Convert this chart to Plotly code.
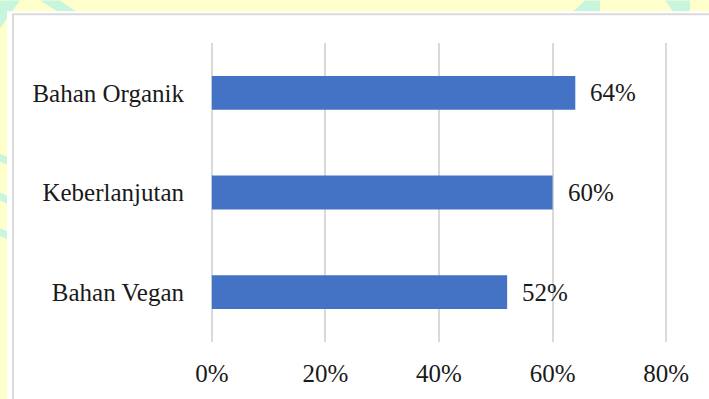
import plotly.graph_objects as go

categories = ["Bahan Vegan", "Keberlanjutan", "Bahan Organik"]
values = [52, 60, 64]
tick_vals = [0, 20, 40, 60, 80]
tick_text = ["0%", "20%", "40%", "60%", "80%"]

W, H = 709, 399
ML, MR, MT, MB = 209, 40, 43, 54
PW, PH = W - ML - MR, H - MT - MB

def px(x):
    return (x - ML) / PW

def py(y):
    return 1 - (y - MT) / PH

FONT = "Liberation Serif, Times New Roman, serif"

fig = go.Figure()
fig.add_trace(go.Bar(
    y=categories, x=values, orientation="h",
    marker=dict(color="#4472C4", line=dict(width=0)),
    width=0.34,
    hoverinfo="skip",
))

for c, v in zip(categories, values):
    fig.add_annotation(x=v, y=c, xref="x", yref="y", text=f"{v}%",
                       showarrow=False, xanchor="left", xshift=13,
                       font=dict(family=FONT, size=25, color="#1A1A1A"))

shapes = []
cyan = "#C8F5DE"
def poly(pts):
    d = "M " + " L ".join(f"{px(a)},{py(b)}" for a, b in pts) + " Z"
    return dict(type="path", path=d, xref="paper", yref="paper",
                fillcolor=cyan, line=dict(width=0), layer="below")
shapes.append(poly([(0, 0), (20, 0), (0, 28)]))
shapes.append(poly([(40, 0), (60, 0), (80, 14), (62, 14)]))
shapes.append(poly([(570, 14), (585, 0), (600, 0), (600, 14)]))
shapes.append(poly([(665, 0), (690, 0), (690, 14), (675, 14)]))
shapes.append(poly([(0, 155), (7, 158), (7, 166), (0, 163)]))
shapes.append(poly([(0, 194), (7, 197), (7, 205), (0, 202)]))
shapes.append(poly([(0, 230), (7, 233), (7, 241), (0, 238)]))
shapes.append(dict(type="rect", xref="paper", yref="paper",
                   x0=px(7), x1=px(W + 5), y0=py(H + 5), y1=py(11),
                   fillcolor="white", line=dict(width=0), layer="below"))
shapes.append(dict(type="rect", xref="paper", yref="paper",
                   x0=px(13), x1=px(W + 5), y0=py(H + 5), y1=py(14),
                   fillcolor="rgba(0,0,0,0)", line=dict(width=2, color="#DADADA"),
                   layer="below"))

fig.update_layout(
    width=W, height=H,
    margin=dict(l=ML, r=MR, t=MT, b=MB, pad=0),
    paper_bgcolor="#FFFFCC",
    plot_bgcolor="white",
    showlegend=False,
    shapes=shapes,
    bargap=0.66,
    xaxis=dict(range=[-0.5, 80.5], tickvals=tick_vals, ticktext=tick_text,
               showgrid=True, gridcolor="#D9D9D9", gridwidth=1.5,
               zeroline=False, showline=False,
               ticks="outside", ticklen=9, tickcolor="rgba(0,0,0,0)",
               tickfont=dict(family=FONT, size=25, color="#1A1A1A"),
               fixedrange=True),
    yaxis=dict(categoryorder="array", categoryarray=categories,
               showgrid=False, zeroline=False, showline=False,
               ticks="outside", ticklen=19, tickcolor="rgba(0,0,0,0)",
               tickfont=dict(family=FONT, size=25, color="#1A1A1A"),
               fixedrange=True),
)

fig.write_html("out.html")
